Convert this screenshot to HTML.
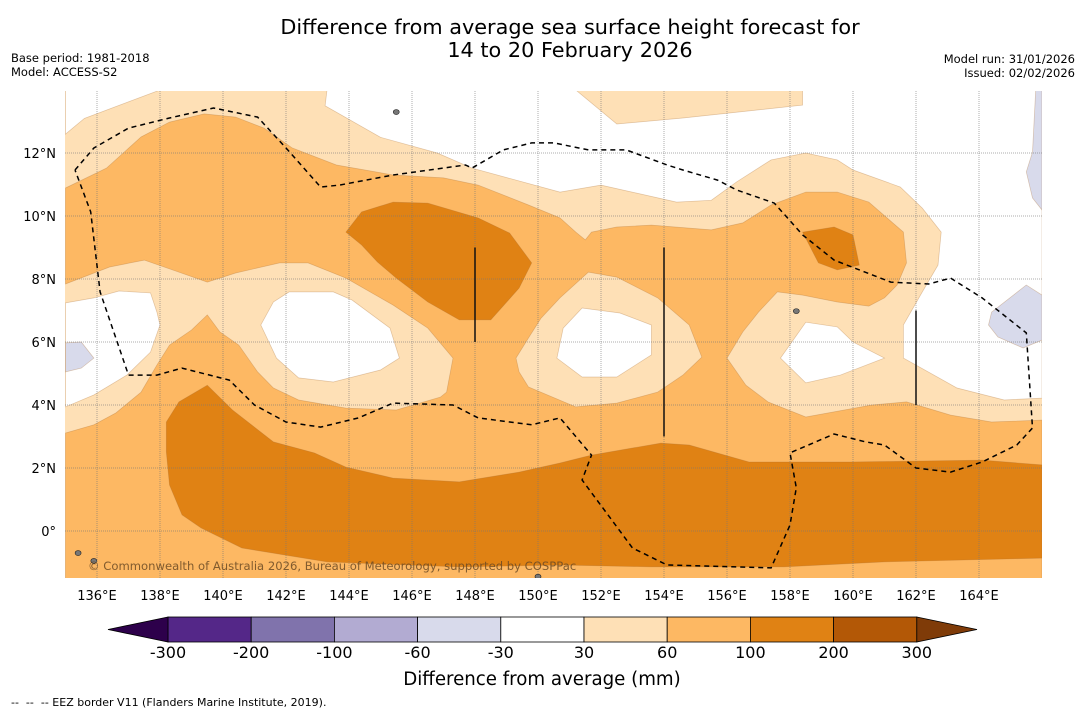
<!DOCTYPE html>
<html><head><meta charset="utf-8"><style>
body{margin:0;background:#fff;width:1085px;height:713px;overflow:hidden;font-family:"DejaVu Sans","Liberation Sans",sans-serif}
svg text{font-family:"DejaVu Sans","Liberation Sans",sans-serif}
</style></head><body>
<svg id="chart" width="1085" height="713" viewBox="0 0 1085 713" xmlns="http://www.w3.org/2000/svg">
<rect x="0" y="0" width="1085" height="713" fill="#fff"/>
<text x="570" y="34" font-size="20.8" text-anchor="middle" fill="#000">Difference from average sea surface height forecast for</text>
<text x="570" y="57" font-size="20.8" text-anchor="middle" fill="#000">14 to 20 February 2026</text>
<text x="11" y="62" font-size="11.5">Base period: 1981-2018</text>
<text x="11" y="76" font-size="11.5">Model: ACCESS-S2</text>
<text x="1075" y="63" font-size="11.5" text-anchor="end">Model run: 31/01/2026</text>
<text x="1075" y="77" font-size="11.5" text-anchor="end">Issued: 02/02/2026</text>
<defs><clipPath id="mapclip"><rect x="65" y="91" width="977" height="487"/></clipPath></defs>
<g id="map" clip-path="url(#mapclip)"></g>
<g id="axes"></g>
<g id="cbar"></g>
<text x="542" y="685" font-size="18.2" text-anchor="middle">Difference from average (mm)</text>
<text x="11" y="706" font-size="11" xml:space="preserve">--  --  -- EEZ border V11 (Flanders Marine Institute, 2019).</text>
</svg>
<script>
const lonTicks=[136,138,140,142,144,146,148,150,152,154,156,158,160,162,164];
const latTicks=[0,2,4,6,8,10,12];
const cbarLevels=[-300,-200,-100,-60,-30,30,60,100,200,300];
const cbarColors=['#542788','#8073ac','#b2abd2','#d8daeb','#ffffff','#fee0b6','#fdb863','#e08214','#b35806'];
const underColor='#2d004b', overColor='#7f3b08';

const whiteTopLeft=[[135,14],[135,12.6],[135.6,13.1],[138,14]];
const whiteTop=[[143.3,14],[143.24,13.5],[145,12.5],[146.8,12],[147.9,11.52],[150.7,10.76],[152,10.98],[154.4,10.44],[155.5,10.5],[156.3,11.08],[157.4,11.78],[158.5,12],[159.5,11.78],[160,11.46],[161.5,10.92],[162.2,10.25],[162.8,9.49],[162.7,8.44],[162.2,7.59],[161.6,6.54],[161.6,5.49],[163.3,4.54],[164.8,4.16],[166,4.22],[166,14]];
const lightTopPatch=[[151.2,14],[152.5,12.92],[154.6,13.11],[158.4,13.52],[158.4,14]];
const mediumMain=[[135,10.89],[136.3,11.52],[137.4,12.51],[138.3,12.98],[139.4,13.24],[140.4,13.14],[141.3,12.79],[142.2,12.16],[143.6,11.62],[145.4,11.3],[147,11.21],[148.1,10.98],[149.7,10.35],[150.7,9.94],[151.2,9.49],[151.5,9.24],[151.7,9.49],[152.5,9.65],[153.6,9.71],[155.5,9.56],[156.5,9.78],[157.4,10.35],[158.5,10.76],[159.5,10.76],[160.5,10.44],[161.6,9.49],[161.7,8.51],[161.4,7.81],[161,7.4],[160.5,7.14],[159.5,7.27],[158.4,7.49],[157.6,7.59],[157,6.95],[156.5,6.32],[156,5.49],[156.6,4.63],[157.3,4.1],[158.5,3.62],[160.6,4],[161.7,4.1],[163.1,3.68],[164.4,3.46],[166,3.52],[166,-1.5],[135,-1.5],[135,3.11],[135.9,3.37],[136.6,3.75],[137.4,4.41],[137.9,5.27],[138.3,5.9],[139,6.38],[139.5,6.86],[139.9,6.32],[140.5,5.9],[141.1,5.05],[141.6,4.54],[142.4,4.16],[143.9,3.9],[145.5,3.84],[146.9,4.25],[147.1,4.41],[147.3,5.49],[146.5,6.44],[145.4,7.17],[143.9,8.03],[142.7,8.51],[141.8,8.51],[140.4,8.19],[139.5,7.9],[138.4,8.29],[137.5,8.6],[136.4,8.38],[135,7.84]];
const lightRing2=[[149.3,5.49],[149.7,6.13],[150.1,6.76],[150.7,7.4],[151.6,8.22],[152.5,8.06],[153.8,7.4],[154.8,6.54],[155.2,5.52],[154.6,4.95],[153.8,4.41],[152.5,4.06],[151.2,3.94],[149.7,4.57],[149.4,5.05]];
const whiteOval0=[[135,7.24],[135.9,7.4],[136.7,7.62],[137.7,7.56],[137.9,6.95],[138,6.54],[137.7,5.68],[136.95,4.95],[135.9,4.32],[135,3.94]];
const whiteOval1=[[141.2,6.54],[141.6,7.27],[142.1,7.59],[143.5,7.59],[144.1,7.33],[145.3,6.44],[145.6,5.49],[145,5.11],[143.5,4.73],[142.4,4.86],[141.7,5.49]];
const whiteOval2=[[150.8,6.44],[151.4,7.08],[152.6,6.92],[153.6,6.54],[153.6,5.59],[152.5,4.89],[151.4,4.89],[150.6,5.49]];
const whiteOval3=[[157.7,5.49],[158.5,6.63],[159.5,6.48],[160,6],[161,5.49],[159.6,4.95],[158.5,4.7]];
const darkA=[[143.9,9.49],[144.4,10.13],[145.4,10.44],[146.5,10.41],[148.1,9.94],[149.1,9.46],[149.8,8.51],[149.4,7.71],[148.5,6.7],[147.5,6.7],[146.5,7.27],[145.5,8.03],[144.9,8.54],[144.4,9.08]];
const darkB=[[158.4,9.49],[159.4,9.65],[160,9.4],[160.2,8.44],[159.5,8.29],[158.9,8.51]];
const darkC=[[138.2,3.46],[138.6,4.1],[139.5,4.63],[140.3,3.84],[141.6,2.83],[142.9,2.48],[143.9,2.03],[145.4,1.68],[147.5,1.56],[149.4,1.87],[150.7,2.16],[151.7,2.41],[153.9,2.79],[154.8,2.73],[156.7,2.19],[159.9,2.19],[164.1,2.25],[166,2.1],[166,-0.86],[161,-0.98],[157.8,-1.14],[153.6,-1.14],[150.7,-1.08],[147.5,-1.14],[143.3,-0.98],[140.6,-0.54],[139.3,0.1],[138.7,0.51],[138.3,1.46],[138.2,2.51]];
const purple1=[[165.8,14],[165.7,12.03],[165.5,11.4],[165.7,10.57],[166,10.19],[166,14]];
const purple2=[[164.4,6.95],[165.5,7.81],[166,7.49],[166,6.06],[165.4,5.81],[164.6,6.16],[164.3,6.54]];
const purple3=[[135,5.97],[135.5,6],[135.9,5.49],[135.5,5.17],[135,5.05]];
const eezBorder=[[135.3,11.46],[135.9,12.16],[137,12.79],[138.3,13.11],[139.7,13.43],[141.1,13.14],[142,12.16],[143.1,10.92],[143.7,10.98],[145.4,11.3],[147.7,11.62],[147.9,11.52],[148.9,12.1],[149.8,12.32],[150.5,12.32],[151.6,12.1],[152.8,12.1],[154.1,11.62],[154.6,11.46],[155.7,11.14],[156.3,10.83],[157.5,10.41],[158.4,9.4],[159.4,8.6],[161.2,7.9],[162.4,7.84],[163.1,8.03],[164.1,7.4],[165.5,6.29],[165.7,3.27],[165.2,2.73],[164.1,2.19],[163.1,1.87],[162,2],[161,2.73],[160.4,2.83],[159.4,3.08],[158,2.48],[158.2,1.37],[158,0.19],[157.4,-1.17],[154.1,-1.08],[153,-0.54],[151.4,1.62],[151.7,2.41],[150.7,3.59],[149.8,3.37],[148.1,3.59],[147.3,4],[145.4,4.06],[144.3,3.59],[143.1,3.3],[142,3.46],[141,4],[140.2,4.79],[138.7,5.17],[137.9,4.95],[137,4.95],[136.1,7.59],[135.8,10.13],[135.3,11.46]];
const boundaryLines=[[[148,9],[148,6]],[[154,9],[154,3]],[[162,7],[162,4]]];
const islands=[[145.5,13.3],[135.9,-0.95],[150.0,-1.45],[158.2,6.98],[135.4,-0.7]];

const NS='http://www.w3.org/2000/svg';
const xOf=lon=>97+(lon-136)*31.5;
const yOf=lat=>531-lat*31.5;
const map=document.getElementById('map');
const axes=document.getElementById('axes');
const cbar=document.getElementById('cbar');
function mk(tag,parent){const e=document.createElementNS(NS,tag);parent.appendChild(e);return e;}
function pts(arr){return arr.map(p=>xOf(p[0]).toFixed(1)+','+yOf(p[1]).toFixed(1)).join(' ');}
function poly(arr,fill,parent){const e=mk('polygon',parent);e.setAttribute('points',pts(arr));e.setAttribute('fill',fill);e.setAttribute('stroke','rgba(170,110,50,0.35)');e.setAttribute('stroke-width','0.7');return e;}

let r=mk('rect',map);
r.setAttribute('x',65);r.setAttribute('y',91);r.setAttribute('width',977);r.setAttribute('height',487);r.setAttribute('fill','#fee0b6');


let e;
e=poly(whiteTopLeft,'#fff',map);


e=poly(whiteTop,'#fff',map);


e=poly(lightTopPatch,'#fee0b6',map);


e=poly(mediumMain,'#fdb863',map);


e=poly(lightRing2,'#fee0b6',map);


e=poly(whiteOval0,'#fff',map);


e=poly(whiteOval1,'#fff',map);


e=poly(whiteOval2,'#fff',map);


e=poly(whiteOval3,'#fff',map);


e=poly(darkA,'#e08214',map);


e=poly(darkB,'#e08214',map);


e=poly(darkC,'#e08214',map);


e=poly(purple1,'#d8daeb',map);


e=poly(purple2,'#d8daeb',map);


e=poly(purple3,'#d8daeb',map);



islands.forEach(p=>{
  const c=mk('ellipse',map);
  c.setAttribute('cx',xOf(p[0]));c.setAttribute('cy',yOf(p[1]));c.setAttribute('rx',3);c.setAttribute('ry',2.5);
  c.setAttribute('fill','#777');c.setAttribute('stroke','#222');c.setAttribute('stroke-width','0.6');
  
  
});

lonTicks.forEach(lon=>{
  const l=mk('line',map);
  l.setAttribute('x1',xOf(lon));l.setAttribute('x2',xOf(lon));l.setAttribute('y1',91);l.setAttribute('y2',578);
  l.setAttribute('stroke','#777');l.setAttribute('stroke-opacity','0.6');l.setAttribute('stroke-width','1');l.setAttribute('stroke-dasharray','1 1');
  
  
  const t=mk('text',axes);
  t.setAttribute('x',xOf(lon));t.setAttribute('y',600);t.setAttribute('font-size','13');t.setAttribute('text-anchor','middle');
  t.textContent=lon+'°E';
  
  
});
latTicks.forEach(lat=>{
  const l=mk('line',map);
  l.setAttribute('x1',65);l.setAttribute('x2',1042);l.setAttribute('y1',yOf(lat));l.setAttribute('y2',yOf(lat));
  l.setAttribute('stroke','#777');l.setAttribute('stroke-opacity','0.6');l.setAttribute('stroke-width','1');l.setAttribute('stroke-dasharray','1 1');
  
  
  const t=mk('text',axes);
  t.setAttribute('x',56);t.setAttribute('y',yOf(lat)+5);t.setAttribute('font-size','13');t.setAttribute('text-anchor','end');
  t.textContent=lat===0?'0°':lat+'°N';
  
  
});

const eez=mk('polyline',map);
eez.setAttribute('points',pts(eezBorder));eez.setAttribute('fill','none');eez.setAttribute('stroke','#000');eez.setAttribute('stroke-width','1.5');eez.setAttribute('stroke-dasharray','5 4');


boundaryLines.forEach(b=>{
  const l=mk('line',map);
  l.setAttribute('x1',xOf(b[0][0]));l.setAttribute('y1',yOf(b[0][1]));l.setAttribute('x2',xOf(b[1][0]));l.setAttribute('y2',yOf(b[1][1]));
  l.setAttribute('stroke','#111');l.setAttribute('stroke-width','1.5');
  
  
});
const cr=mk('text',map);
cr.setAttribute('x',88);cr.setAttribute('y',570);cr.setAttribute('font-size','11.6');cr.setAttribute('fill','#6b4a25');cr.setAttribute('fill-opacity','0.85');
cr.textContent='© Commonwealth of Australia 2026, Bureau of Meteorology, supported by COSPPac';



// colorbar
const cbX0=168,cbW=83.2,cbY=617,cbH=25;
const cx=i=>cbX0+i*cbW;
cbarColors.forEach((c,i)=>{
  const b=mk('rect',cbar);
  b.setAttribute('x',cx(i));b.setAttribute('y',cbY);b.setAttribute('width',cbW);b.setAttribute('height',cbH);
  b.setAttribute('fill',c);b.setAttribute('stroke','#000');b.setAttribute('stroke-width','0.8');
  
  
});
const under=mk('polygon',cbar);
under.setAttribute('points',`${cx(0)},${cbY} 108,${cbY+cbH/2} ${cx(0)},${cbY+cbH}`);
under.setAttribute('fill',underColor);under.setAttribute('stroke','#000');under.setAttribute('stroke-width','0.8');


const over=mk('polygon',cbar);
over.setAttribute('points',`${cx(9)},${cbY} 977,${cbY+cbH/2} ${cx(9)},${cbY+cbH}`);
over.setAttribute('fill',overColor);over.setAttribute('stroke','#000');over.setAttribute('stroke-width','0.8');


cbarLevels.forEach((v,i)=>{
  const t=mk('text',cbar);
  t.setAttribute('x',cx(i));t.setAttribute('y',658);t.setAttribute('font-size','16');t.setAttribute('text-anchor','middle');
  t.textContent=v;
  
  
});
</script>
</body></html>
